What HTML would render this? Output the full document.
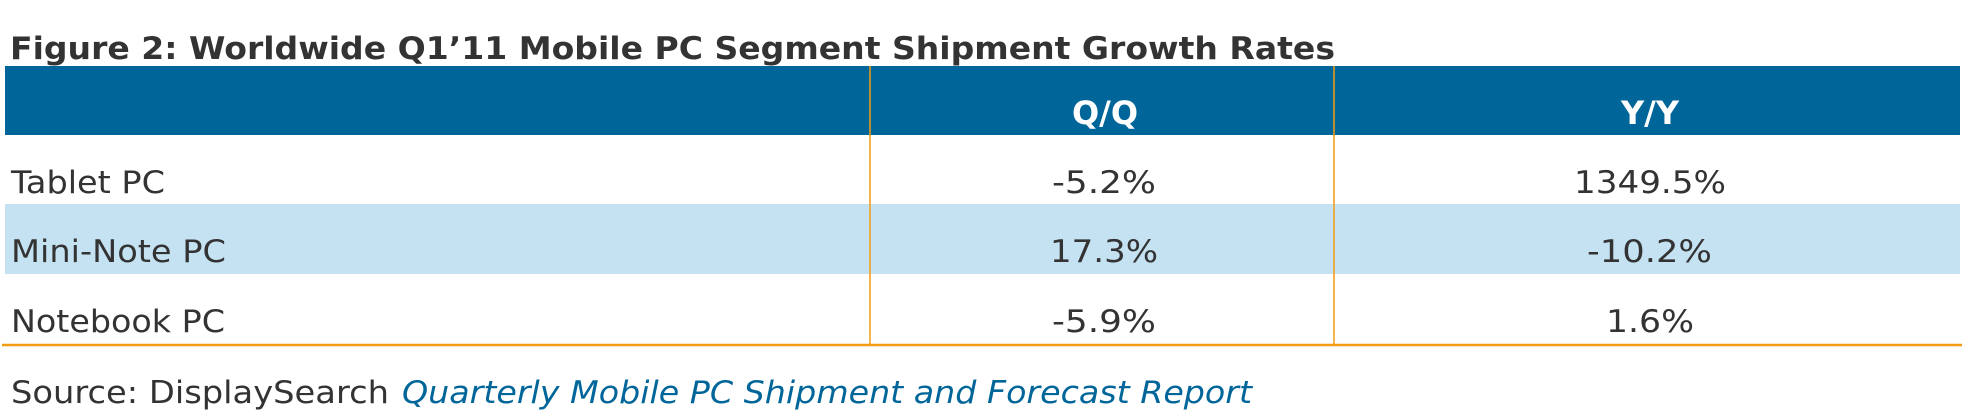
<!DOCTYPE html>
<html><head><meta charset="utf-8"><style>html,body{margin:0;padding:0;background:#fff}svg{display:block}</style></head>
<body>
<svg width="1965" height="412" viewBox="0 0 1965 412" xmlns="http://www.w3.org/2000/svg" font-family="'DejaVu Sans','Liberation Sans',sans-serif">
<rect x="0" y="0" width="1965" height="412" fill="#fff"/>
<text x="10" y="59" font-size="31" font-weight="bold" fill="#333" textLength="1325" lengthAdjust="spacingAndGlyphs">Figure 2: Worldwide Q1’11 Mobile PC Segment Shipment Growth Rates</text>
<rect x="5" y="66" width="1955" height="69" fill="#006699"/>
<rect x="5" y="204" width="1955" height="70" fill="#C5E2F3"/>
<line x1="870" y1="66" x2="870" y2="344" stroke="#F39C12" stroke-width="1.5"/>
<line x1="1334" y1="66" x2="1334" y2="344" stroke="#F39C12" stroke-width="1.5"/>
<line x1="2" y1="345" x2="1962" y2="345" stroke="#F39C12" stroke-width="2.5"/>
<g font-size="32" font-weight="bold" fill="#fff" text-anchor="middle">
<text x="1105" y="124">Q/Q</text>
<text x="1650" y="124">Y/Y</text>
</g>
<g font-size="31" fill="#333">
<text x="11" y="193" textLength="154" lengthAdjust="spacingAndGlyphs">Tablet PC</text>
<text x="11" y="262" textLength="215" lengthAdjust="spacingAndGlyphs">Mini-Note PC</text>
<text x="11" y="332" textLength="214" lengthAdjust="spacingAndGlyphs">Notebook PC</text>
<text x="1052" y="193" textLength="104" lengthAdjust="spacingAndGlyphs">-5.2%</text>
<text x="1050" y="262" textLength="108" lengthAdjust="spacingAndGlyphs">17.3%</text>
<text x="1052" y="332" textLength="104" lengthAdjust="spacingAndGlyphs">-5.9%</text>
<text x="1574" y="193" textLength="152" lengthAdjust="spacingAndGlyphs">1349.5%</text>
<text x="1587" y="262" textLength="125" lengthAdjust="spacingAndGlyphs">-10.2%</text>
<text x="1606" y="332" textLength="88" lengthAdjust="spacingAndGlyphs">1.6%</text>
<text x="11" y="403" textLength="378" lengthAdjust="spacingAndGlyphs">Source: DisplaySearch</text>
<text x="402" y="403" font-style="italic" fill="#006699" textLength="850" lengthAdjust="spacingAndGlyphs">Quarterly Mobile PC Shipment and Forecast Report</text>
</g>
</svg>
</body></html>
